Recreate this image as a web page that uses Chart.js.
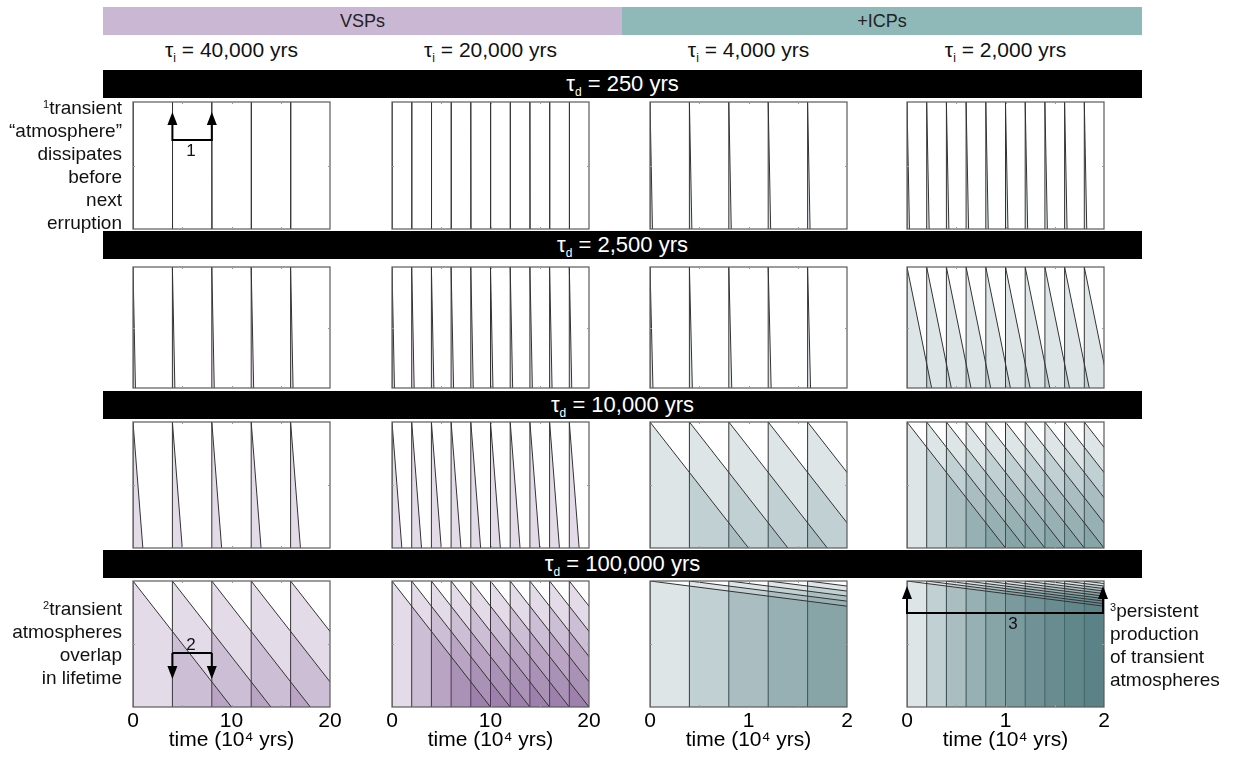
<!DOCTYPE html>
<html>
<head>
<meta charset="utf-8">
<script src="https://cdn.jsdelivr.net/npm/chart.js@4.4.0/dist/chart.umd.min.js"></script>
<style>
  body { margin: 0; width: 1233px; height: 759px; background: #fff; position: relative; overflow: hidden;
         font-family: Arial, "Liberation Sans", sans-serif; }
  .band { position: absolute; top: 7px; height: 28px; color: #222; font-size: 18px;
          display: flex; align-items: center; justify-content: center; }
  .tauI { position: absolute; top: 38px; width: 240px; text-align: center; font-size: 21px; color: #111; }
  .bar { position: absolute; left: 103px; width: 1039px; height: 28px; background: #000; color: #fff;
         font-size: 22px; line-height: 28px; text-align: center; }
  sub { font-size: 12px; vertical-align: -5px; line-height: 0; }
  sup { font-size: 11px; vertical-align: 6px; line-height: 0; }
  .note { position: absolute; font-size: 19px; line-height: 23px; color: #111; }
  .num { position: absolute; font-size: 17px; color: #111; transform: translate(-50%, -50%); }
  canvas { position: absolute; }
  svg { position: absolute; left: 0; top: 0; }
</style>
</head>
<body>
<div class="band" style="left:103px;width:519px;background:#c9b7d3;">VSPs</div>
<div class="band" style="left:622px;width:520px;background:#8fb8b9;">+ICPs</div>

<div id="stage"></div>

<div class="note" style="right:1111px;top:96px;text-align:right;">
  <sup>1</sup>transient<br>“atmosphere”<br>dissipates<br>before<br>next<br>erruption
</div>
<div class="note" style="right:1111px;top:597px;text-align:right;">
  <sup>2</sup>transient<br>atmospheres<br>overlap<br>in lifetime
</div>
<div class="note" style="left:1110px;top:599px;text-align:left;">
  <sup>3</sup>persistent<br>production<br>of transient<br>atmospheres
</div>

<svg width="1233" height="759">
  <g stroke="#000" stroke-width="2" fill="none">
    <polyline points="172.4,123 172.4,140 211.8,140 211.8,123"/>
    <polyline points="172.4,653 211.8,653"/>
    <line x1="172.4" y1="653" x2="172.4" y2="668"/>
    <line x1="211.8" y1="653" x2="211.8" y2="668"/>
    <polyline points="907,597 907,613 1103,613 1103,597"/>
  </g>
  <g fill="#000">
    <polygon points="167.4,125 177.4,125 172.4,112"/>
    <polygon points="206.8,125 216.8,125 211.8,112"/>
    <polygon points="167.4,666 177.4,666 172.4,679"/>
    <polygon points="206.8,666 216.8,666 211.8,679"/>
    <polygon points="902,599 912,599 907,586"/>
    <polygon points="1098,599 1108,599 1103,586"/>
  </g>
</svg>
<div class="num" style="left:191px;top:151px;">1</div>
<div class="num" style="left:191px;top:645px;">2</div>
<div class="num" style="left:1013px;top:624px;">3</div>

<script>
// columns: eruption interval τi, rows: dissipation time τd
const tauILabels = ['40,000', '20,000', '4,000', '2,000'];
const tauDLabels = ['250', '2,500', '10,000', '100,000'];
const tauI = [4, 2, 0.4, 0.2];            // 10^4 yrs
const eruptionCount = [5, 10, 5, 10];
// decay length drawn in each panel (10^4 yrs), rows x cols
const decayRow1 = [0.025, 0.025, 0.025, 0.025];
const decayRow2 = [0.25, 0.25, 0.03, 0.25];
const decayRow3 = [1, 1, 1, 1];
const decayRow4 = [10, 10, 10, 10];
const panelDecay = [decayRow1, decayRow2, decayRow3, decayRow4];
const xMax = [20, 20, 2, 2];
const xTicks = [[0, 10, 20], [0, 10, 20], [0, 1, 2], [0, 1, 2]];
const minorTicks = [[5, 10, 15], [5, 10, 15], [0.5, 1, 1.5], [0.5, 1, 1.5]];
const fills = ['rgba(99,55,122,0.18)', 'rgba(99,55,122,0.18)', 'rgba(66,111,116,0.18)', 'rgba(66,111,116,0.18)'];

// layout (px)
const panelLeft = [133, 392, 650, 907];
const panelWidth = 197;
const panelTop = [102, 267, 422, 581];
const panelHeight = [127, 121, 126, 126];
const barTop = [70, 231, 391, 550];
const FONT = 'Arial, "Liberation Sans", sans-serif';
const PAD = 20;
const AXIS_H = 46;

const stage = document.getElementById('stage');

// τi labels over columns
tauILabels.forEach((lab, c) => {
  const d = document.createElement('div');
  d.className = 'tauI';
  d.style.left = (panelLeft[c] + panelWidth / 2 - 120) + 'px';
  d.innerHTML = 'τ<sub>i</sub> = ' + lab + ' yrs';
  stage.appendChild(d);
});

// black τd bars
tauDLabels.forEach((lab, r) => {
  const d = document.createElement('div');
  d.className = 'bar';
  d.style.top = barTop[r] + 'px';
  d.innerHTML = '<span>τ<sub>d</sub> = ' + lab + ' yrs</span>';
  stage.appendChild(d);
});

// box + small inside ticks
const framePlugin = {
  id: 'frame',
  afterDatasetsDraw(chart, args, opts) {
    const { ctx, chartArea: a, scales: { x, y } } = chart;
    ctx.save();
    ctx.strokeStyle = '#5a5a5a';
    ctx.lineWidth = 1.2;
    ctx.strokeRect(a.left, a.top, a.width, a.height);
    ctx.strokeStyle = '#999';
    ctx.lineWidth = 1;
    ctx.beginPath();
    opts.minor.forEach(v => {
      const px = Math.round(x.getPixelForValue(v)) + 0.5;
      ctx.moveTo(px, a.top); ctx.lineTo(px, a.top + 2);
      ctx.moveTo(px, a.bottom); ctx.lineTo(px, a.bottom - 2);
    });
    const py = Math.round(y.getPixelForValue(0.5)) + 0.5;
    ctx.moveTo(a.left, py); ctx.lineTo(a.left + 2, py);
    ctx.moveTo(a.right, py); ctx.lineTo(a.right - 2, py);
    ctx.stroke();
    ctx.restore();
  }
};

function eruptionSets(c, r) {
  const sets = [];
  const d = panelDecay[r][c];
  for (let k = 0; k < eruptionCount[c]; k++) {
    const t = k * tauI[c];
    sets.push({
      data: [{ x: t, y: 0 }, { x: t, y: 1 }, { x: t + d, y: 0 }],
      borderColor: '#333',
      borderWidth: 1,
      backgroundColor: fills[c],
      fill: 'origin',
      pointRadius: 0,
      tension: 0
    });
  }
  return sets;
}

for (let r = 0; r < 4; r++) {
  for (let c = 0; c < 4; c++) {
    const last = r === 3;
    const cv = document.createElement('canvas');
    const w = panelWidth + 2 * PAD;
    const h = panelHeight[r] + 4 + (last ? AXIS_H : 0);
    cv.width = w; cv.height = h;
    cv.style.left = (panelLeft[c] - PAD) + 'px';
    cv.style.top = (panelTop[r] - 2) + 'px';
    stage.appendChild(cv);

    new Chart(cv.getContext('2d'), {
      type: 'line',
      data: { datasets: eruptionSets(c, r) },
      options: {
        responsive: false,
        animation: false,
        events: [],
        layout: { padding: { left: PAD, right: PAD, top: 2, bottom: 2 } },
        plugins: { legend: { display: false }, tooltip: { enabled: false }, frame: { minor: minorTicks[c] } },
        scales: {
          x: {
            type: 'linear', min: 0, max: xMax[c], display: last,
            grid: { display: false, drawTicks: false },
            border: { display: false },
            afterBuildTicks: s => { s.ticks = xTicks[c].map(v => ({ value: v })); },
            afterFit: s => { s.height = last ? AXIS_H : 0; },
            ticks: { font: { size: 21, family: FONT }, color: '#000', padding: 2, maxRotation: 0, autoSkip: false },
            title: { display: true, text: 'time (10⁴ yrs)', font: { size: 21, family: FONT }, color: '#000', padding: 0 }
          },
          y: { type: 'linear', min: 0, max: 1, display: false }
        }
      },
      plugins: [framePlugin]
    });
  }
}
</script>
</body>
</html>
